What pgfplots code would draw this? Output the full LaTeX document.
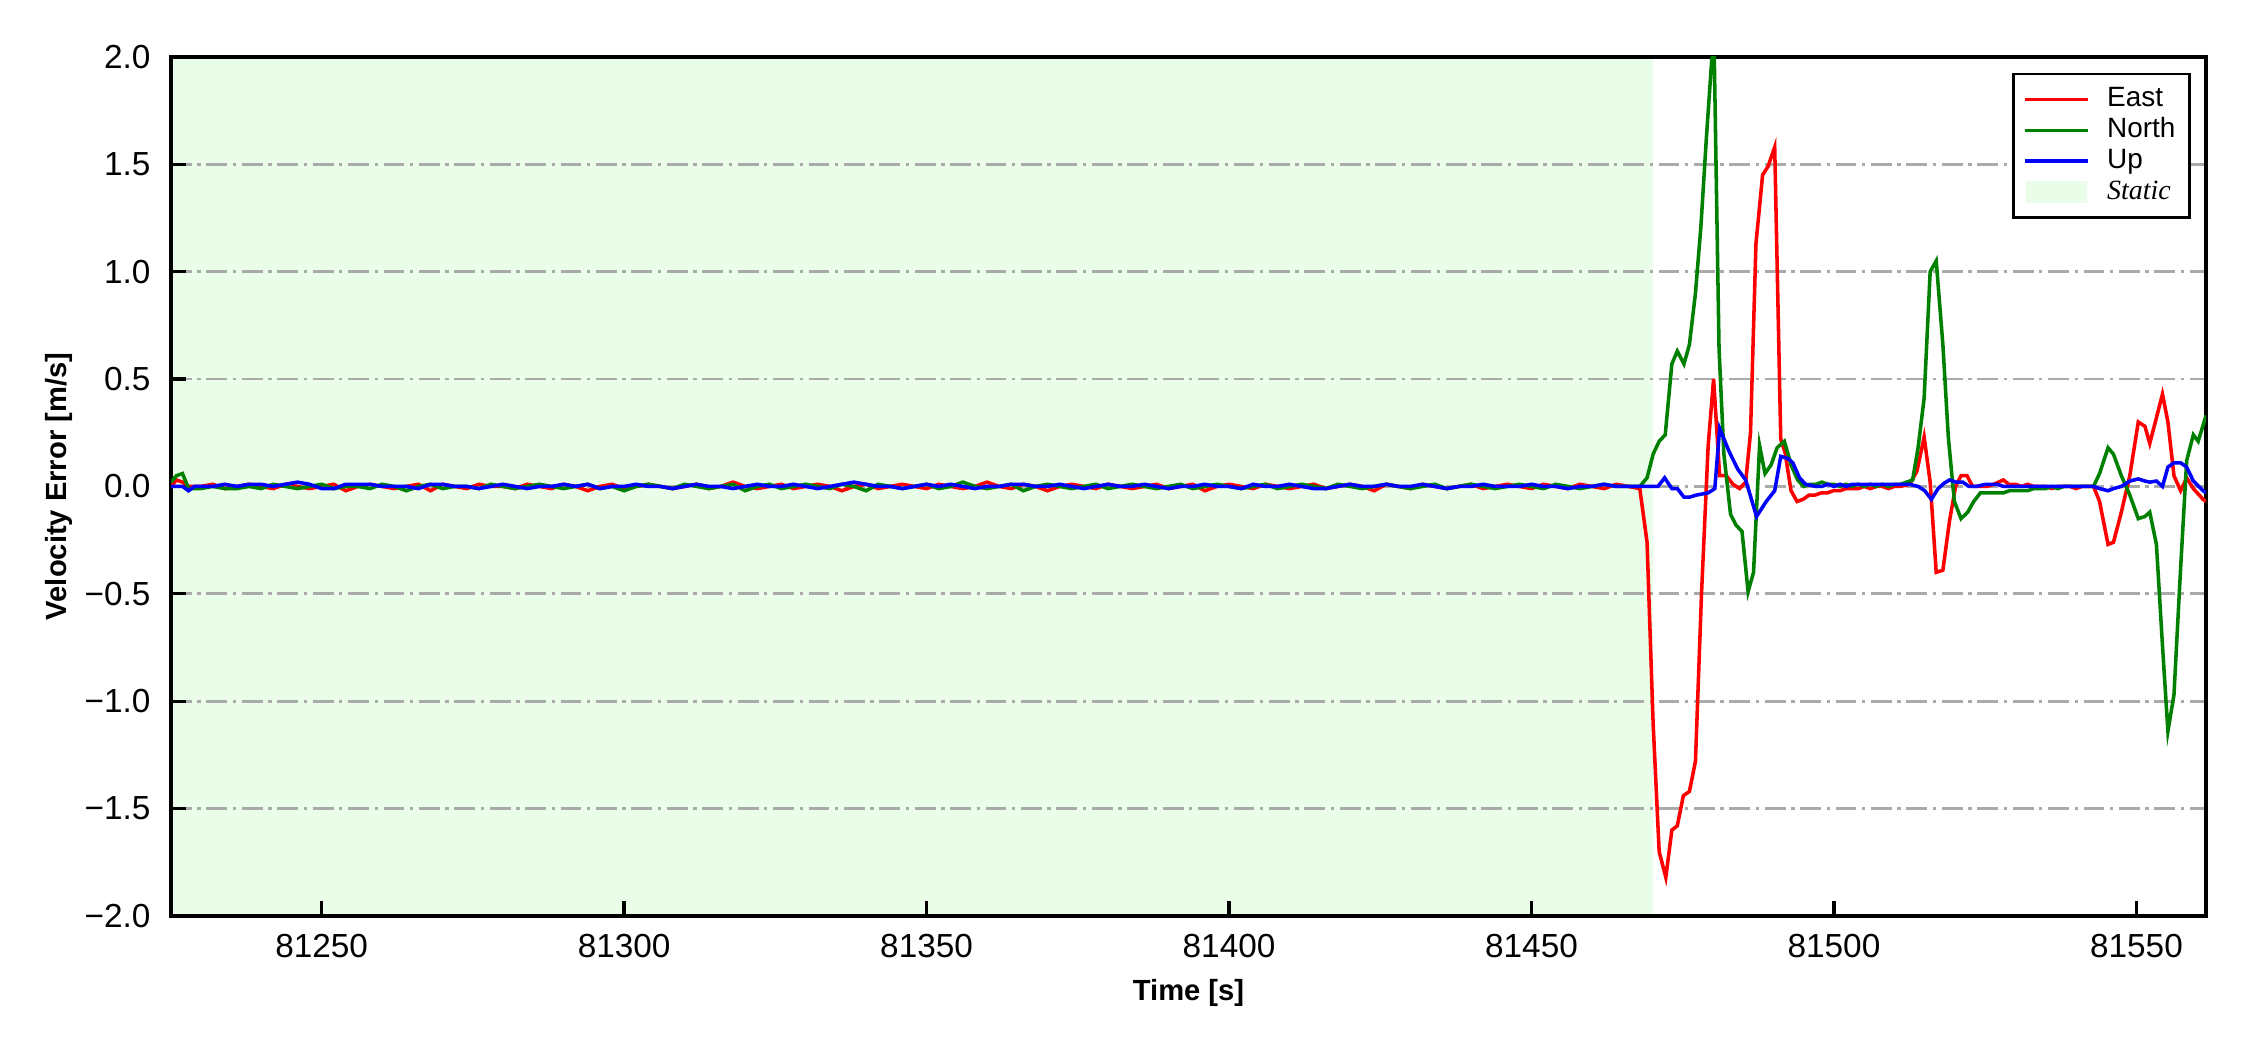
\documentclass[border=0pt]{standalone}
\usepackage{fontspec}
\setmainfont{Liberation Sans}
\newfontfamily\serifit{Liberation Serif}
\usepackage{pgfplots}
\pgfplotsset{compat=1.18}
\usepackage{pgfplotstable}
\definecolor{mplgreen}{RGB}{0,128,0}
\definecolor{mplred}{RGB}{255,0,0}
\definecolor{mplblue}{RGB}{0,0,255}
\definecolor{staticgreen}{RGB}{233,253,233}
\definecolor{gridgray}{RGB}{170,170,170}

\pgfplotstableread[row sep=\\]{t v\\
81225.1 0.00\\ 81226 0.03\\ 81227 0.02\\ 81228 0.00\\
81230 0.00\\ 81232 0.01\\ 81234 -0.01\\ 81236 0.00\\ 81238 0.01\\ 81240 0.00\\ 81242 -0.01\\ 81244 0.01\\ 81246 0.00\\ 81248 -0.01\\
81250 0.00\\ 81252 0.01\\ 81254 -0.02\\ 81256 0.00\\ 81258 0.01\\ 81260 0.00\\ 81262 -0.01\\ 81264 0.00\\ 81266 0.01\\ 81268 -0.02\\
81270 0.01\\ 81272 0.00\\ 81274 -0.01\\ 81276 0.01\\ 81278 0.00\\ 81280 0.00\\ 81282 -0.01\\ 81284 0.01\\ 81286 0.00\\ 81288 -0.01\\
81290 0.01\\ 81292 0.00\\ 81294 -0.02\\ 81296 0.00\\ 81298 0.01\\ 81300 -0.01\\ 81302 0.00\\ 81304 0.01\\ 81306 0.00\\ 81308 -0.01\\
81310 0.00\\ 81312 0.01\\ 81314 -0.01\\ 81316 0.00\\ 81318 0.02\\ 81320 0.00\\ 81322 -0.01\\ 81324 0.00\\ 81326 0.01\\ 81328 -0.01\\
81330 0.00\\ 81332 0.01\\ 81334 0.00\\ 81336 -0.02\\ 81338 0.00\\ 81340 0.01\\ 81342 -0.01\\ 81344 0.00\\ 81346 0.01\\ 81348 0.00\\
81350 -0.01\\ 81352 0.01\\ 81354 0.00\\ 81356 -0.01\\ 81358 0.00\\ 81360 0.02\\ 81362 0.00\\ 81364 -0.01\\ 81366 0.01\\ 81368 0.00\\
81370 -0.02\\ 81372 0.00\\ 81374 0.01\\ 81376 0.00\\ 81378 -0.01\\ 81380 0.01\\ 81382 0.00\\ 81384 -0.01\\ 81386 0.00\\ 81388 0.01\\
81390 -0.01\\ 81392 0.00\\ 81394 0.01\\ 81396 -0.02\\ 81398 0.00\\ 81400 0.01\\ 81402 0.00\\ 81404 -0.01\\ 81406 0.01\\ 81408 0.00\\
81410 -0.01\\ 81412 0.00\\ 81414 0.01\\ 81416 -0.01\\ 81418 0.00\\ 81420 0.01\\ 81422 0.00\\ 81424 -0.02\\ 81426 0.01\\ 81428 0.00\\
81430 -0.01\\ 81432 0.01\\ 81434 0.00\\ 81436 -0.01\\ 81438 0.00\\ 81440 0.01\\ 81442 -0.01\\ 81444 0.00\\ 81446 0.01\\ 81448 0.00\\
81450 -0.01\\ 81452 0.01\\ 81454 0.00\\ 81456 -0.01\\ 81458 0.01\\ 81460 0.00\\ 81462 -0.01\\ 81464 0.01\\ 81466 0.00\\
81467.9 -0.01\\ 81469.1 -0.26\\ 81470.1 -1.10\\ 81471.1 -1.70\\ 81472.2 -1.82\\ 81473.2 -1.60\\ 81474.1 -1.58\\ 81475.1 -1.44\\
81476.1 -1.42\\ 81477.1 -1.28\\ 81478.1 -0.50\\ 81479.2 0.19\\ 81480.1 0.50\\ 81481.1 0.05\\ 81482.2 0.05\\ 81483.3 0.01\\
81484.4 -0.01\\ 81485.4 0.02\\ 81486.2 0.25\\ 81487.1 1.13\\ 81488.2 1.45\\ 81489.1 1.49\\ 81490.2 1.58\\ 81491.2 0.22\\
81491.9 0.16\\ 81492.9 -0.02\\ 81493.9 -0.07\\ 81494.9 -0.06\\ 81495.9 -0.04\\ 81496.9 -0.04\\ 81497.9 -0.03\\ 81498.9 -0.03\\
81499.9 -0.02\\ 81501 -0.02\\ 81502 -0.01\\ 81503 -0.01\\ 81504 -0.01\\ 81505 0.00\\ 81506 -0.01\\ 81507 0.00\\ 81508 0.00\\
81509 -0.01\\ 81510 0.00\\ 81511 0.00\\ 81512.5 0.01\\ 81513.7 0.07\\ 81514.9 0.23\\ 81515.9 0.02\\ 81516.9 -0.40\\ 81518 -0.39\\
81519.1 -0.16\\ 81520.1 0.00\\ 81521 0.05\\ 81522 0.05\\ 81522.9 0.00\\ 81524.2 0.00\\ 81525.3 0.00\\ 81526.4 0.01\\ 81528 0.03\\
81528.9 0.01\\ 81530 0.01\\ 81531 0.00\\ 81532 0.01\\ 81533 0.00\\ 81534 0.00\\ 81535 0.00\\ 81536 -0.01\\ 81537 0.00\\ 81538 0.00\\
81539 0.00\\ 81540 -0.01\\ 81541 0.00\\ 81542 0.00\\ 81542.9 0.00\\ 81543.9 -0.07\\ 81545.3 -0.27\\ 81546.2 -0.26\\ 81547.5 -0.12\\
81548.9 0.05\\ 81550.3 0.30\\ 81551.4 0.28\\ 81552.2 0.20\\ 81553.3 0.32\\ 81554.3 0.43\\ 81555.2 0.30\\ 81556.2 0.05\\
81557.3 -0.02\\ 81558.3 0.04\\ 81559.4 -0.01\\ 81561.0 -0.06\\ 81561.5 -0.07\\
}\eastdata

\pgfplotstableread[row sep=\\]{t v\\
81225.1 0.02\\ 81226 0.05\\ 81227 0.06\\ 81228 -0.01\\
81230 -0.01\\ 81232 0.00\\ 81234 -0.01\\ 81236 -0.01\\ 81238 0.00\\ 81240 -0.01\\ 81242 0.01\\ 81244 0.00\\ 81246 -0.01\\ 81248 0.00\\
81250 0.01\\ 81252 -0.01\\ 81254 0.00\\ 81256 0.00\\ 81258 -0.01\\ 81260 0.01\\ 81262 0.00\\ 81264 -0.02\\ 81266 0.00\\ 81268 0.01\\
81270 -0.01\\ 81272 0.00\\ 81274 0.00\\ 81276 -0.01\\ 81278 0.01\\ 81280 0.00\\ 81282 -0.01\\ 81284 0.00\\ 81286 0.01\\ 81288 0.00\\
81290 -0.01\\ 81292 0.00\\ 81294 0.01\\ 81296 -0.01\\ 81298 0.00\\ 81300 -0.02\\ 81302 0.00\\ 81304 0.01\\ 81306 0.00\\ 81308 -0.01\\
81310 0.01\\ 81312 0.00\\ 81314 -0.01\\ 81316 0.00\\ 81318 0.01\\ 81320 -0.02\\ 81322 0.00\\ 81324 0.01\\ 81326 -0.01\\ 81328 0.00\\
81330 0.01\\ 81332 0.00\\ 81334 -0.01\\ 81336 0.01\\ 81338 0.00\\ 81340 -0.02\\ 81342 0.01\\ 81344 0.00\\ 81346 -0.01\\ 81348 0.00\\
81350 0.01\\ 81352 -0.01\\ 81354 0.00\\ 81356 0.02\\ 81358 0.00\\ 81360 -0.01\\ 81362 0.00\\ 81364 0.01\\ 81366 -0.02\\ 81368 0.00\\
81370 0.01\\ 81372 0.00\\ 81374 -0.01\\ 81376 0.00\\ 81378 0.01\\ 81380 -0.01\\ 81382 0.00\\ 81384 0.01\\ 81386 0.00\\ 81388 -0.01\\
81390 0.00\\ 81392 0.01\\ 81394 -0.01\\ 81396 0.00\\ 81398 0.01\\ 81400 0.00\\ 81402 -0.01\\ 81404 0.00\\ 81406 0.01\\ 81408 -0.01\\
81410 0.00\\ 81412 0.01\\ 81414 0.00\\ 81416 -0.01\\ 81418 0.01\\ 81420 0.00\\ 81422 -0.01\\ 81424 0.00\\ 81426 0.01\\ 81428 0.00\\
81430 -0.01\\ 81432 0.00\\ 81434 0.01\\ 81436 -0.01\\ 81438 0.00\\ 81440 0.01\\ 81442 0.00\\ 81444 -0.01\\ 81446 0.00\\ 81448 0.01\\
81450 0.00\\ 81452 -0.01\\ 81454 0.01\\ 81456 0.00\\ 81458 -0.01\\ 81460 0.00\\ 81462 0.01\\ 81464 0.00\\ 81466 0.00\\
81467.9 0.00\\ 81469.1 0.04\\ 81470.1 0.15\\ 81471.1 0.21\\ 81472.1 0.24\\ 81473.2 0.57\\ 81474.1 0.63\\ 81475.2 0.57\\
81476.1 0.66\\ 81477.1 0.90\\ 81478.0 1.21\\ 81478.9 1.62\\ 81479.8 1.99\\ 81480.2 2.02\\ 81481.0 0.64\\ 81481.8 0.15\\
81482.9 -0.13\\ 81483.8 -0.18\\ 81484.8 -0.21\\ 81485.8 -0.49\\ 81486.7 -0.40\\ 81487.7 0.19\\ 81488.6 0.06\\ 81489.6 0.10\\
81490.6 0.18\\ 81491.8 0.21\\ 81492.9 0.10\\ 81494 0.03\\ 81495 0.00\\ 81496 0.01\\ 81497 0.01\\ 81498 0.02\\ 81499 0.01\\
81500 0.01\\ 81501 0.00\\ 81502 0.01\\ 81503 0.00\\ 81504 0.01\\ 81505 0.00\\ 81506 0.01\\ 81507 0.00\\ 81508 0.01\\ 81509 0.00\\
81510 0.01\\ 81511 0.01\\ 81512 0.02\\ 81513 0.03\\ 81513.9 0.18\\ 81514.9 0.41\\ 81515.9 1.00\\ 81516.9 1.05\\ 81518 0.66\\
81518.9 0.23\\ 81519.9 -0.07\\ 81521 -0.15\\ 81522.1 -0.12\\ 81523.1 -0.07\\ 81524.2 -0.03\\ 81525.3 -0.03\\ 81526.4 -0.03\\
81528 -0.03\\ 81529 -0.02\\ 81530 -0.02\\ 81531 -0.02\\ 81532 -0.02\\ 81533 -0.01\\ 81534 -0.01\\ 81535 -0.01\\ 81536 0.00\\
81537 -0.01\\ 81538 0.00\\ 81539 0.00\\ 81540 0.00\\ 81541 0.00\\ 81542.9 0.00\\ 81543.9 0.06\\ 81545.3 0.18\\ 81546.2 0.15\\
81547.5 0.05\\ 81548.9 -0.04\\ 81550.3 -0.15\\ 81551.4 -0.14\\ 81552.2 -0.12\\ 81553.3 -0.27\\ 81554.3 -0.74\\ 81555.2 -1.14\\
81556.2 -0.97\\ 81557.3 -0.38\\ 81558.3 0.12\\ 81559.4 0.24\\ 81560.2 0.21\\ 81561.5 0.33\\
}\northdata

\pgfplotstableread[row sep=\\]{t v\\
81225.1 0.00\\ 81227 0.00\\ 81228 -0.02\\ 81229 0.00\\
81230 0.00\\ 81232 0.00\\ 81234 0.01\\ 81236 0.00\\ 81238 0.01\\ 81240 0.01\\ 81242 0.00\\ 81244 0.01\\ 81246 0.02\\ 81248 0.01\\
81250 -0.01\\ 81252 -0.01\\ 81254 0.01\\ 81256 0.01\\ 81258 0.01\\ 81260 0.00\\ 81262 0.00\\ 81264 0.00\\ 81266 -0.01\\ 81268 0.01\\
81270 0.01\\ 81272 0.00\\ 81274 0.00\\ 81276 -0.01\\ 81278 0.00\\ 81280 0.01\\ 81282 0.00\\ 81284 -0.01\\ 81286 0.00\\ 81288 0.00\\
81290 0.01\\ 81292 0.00\\ 81294 0.01\\ 81296 -0.01\\ 81298 0.00\\ 81300 0.00\\ 81302 0.01\\ 81304 0.00\\ 81306 0.00\\ 81308 -0.01\\
81310 0.00\\ 81312 0.01\\ 81314 0.00\\ 81316 0.00\\ 81318 -0.01\\ 81320 0.00\\ 81322 0.01\\ 81324 0.00\\ 81326 0.00\\ 81328 0.01\\
81330 0.00\\ 81332 -0.01\\ 81334 0.00\\ 81336 0.01\\ 81338 0.02\\ 81340 0.01\\ 81342 0.00\\ 81344 0.00\\ 81346 -0.01\\ 81348 0.00\\
81350 0.01\\ 81352 0.00\\ 81354 0.01\\ 81356 0.00\\ 81358 -0.01\\ 81360 0.00\\ 81362 0.00\\ 81364 0.01\\ 81366 0.01\\ 81368 0.00\\
81370 0.00\\ 81372 0.01\\ 81374 0.00\\ 81376 -0.01\\ 81378 0.00\\ 81380 0.01\\ 81382 0.00\\ 81384 0.00\\ 81386 0.01\\ 81388 0.00\\
81390 -0.01\\ 81392 0.00\\ 81394 0.00\\ 81396 0.01\\ 81398 0.00\\ 81400 0.00\\ 81402 -0.01\\ 81404 0.01\\ 81406 0.00\\ 81408 0.00\\
81410 0.01\\ 81412 0.00\\ 81414 -0.01\\ 81416 -0.01\\ 81418 0.00\\ 81420 0.01\\ 81422 0.00\\ 81424 0.00\\ 81426 0.01\\ 81428 0.00\\
81430 0.00\\ 81432 0.01\\ 81434 0.00\\ 81436 -0.01\\ 81438 0.00\\ 81440 0.00\\ 81442 0.01\\ 81444 0.00\\ 81446 0.00\\ 81448 0.00\\
81450 0.01\\ 81452 0.00\\ 81454 0.00\\ 81456 -0.01\\ 81458 0.00\\ 81460 0.00\\ 81462 0.01\\ 81464 0.00\\ 81466 0.00\\
81467.9 0.00\\ 81470.9 0.00\\ 81472.0 0.04\\ 81473.2 -0.01\\ 81474.1 -0.01\\ 81475.2 -0.05\\ 81476.1 -0.05\\ 81477.3 -0.04\\
81479.2 -0.03\\ 81480.3 -0.01\\ 81481.1 0.27\\ 81482.7 0.16\\ 81484.1 0.08\\ 81485.4 0.03\\ 81487.2 -0.14\\ 81488.8 -0.07\\
81490.2 -0.02\\ 81491.2 0.14\\ 81492.4 0.13\\ 81493.2 0.11\\ 81494.3 0.04\\ 81495.3 0.01\\ 81497 0.00\\ 81498 0.00\\ 81499 0.01\\
81500 0.00\\ 81501 0.01\\ 81502 0.00\\ 81503 0.01\\ 81505 0.01\\ 81507 0.01\\ 81509 0.01\\ 81511 0.01\\ 81512.5 0.01\\
81513.9 0.00\\ 81515 -0.02\\ 81516.1 -0.06\\ 81517.2 -0.01\\ 81518.2 0.015\\ 81519.1 0.03\\ 81520.2 0.02\\ 81521.3 0.02\\
81522.3 0.00\\ 81523.5 0.00\\ 81525.1 0.01\\ 81527 0.01\\ 81528 0.00\\ 81530 0.00\\ 81532 0.00\\ 81534 0.00\\ 81536 0.00\\
81538 0.00\\ 81540 0.00\\ 81542.9 0.00\\ 81543.9 -0.01\\ 81545.3 -0.02\\ 81546.2 -0.01\\ 81547.5 0.00\\ 81548.9 0.025\\
81550.3 0.035\\ 81551.4 0.025\\ 81552.2 0.02\\ 81553.3 0.025\\ 81554.3 0.00\\ 81555.2 0.09\\ 81556.2 0.11\\ 81557.3 0.11\\
81558.3 0.09\\ 81559.4 0.025\\ 81561.0 -0.02\\ 81561.5 -0.03\\
}\updata

\pgfplotstableread[row sep=\\]{t v\\
81225.1 -2\\ 81470 -2\\ 81470 2\\ 81225.1 2\\
}\staticdata

\begin{document}
\begin{tikzpicture}
\begin{axis}[
  at={(0pt,0pt)}, anchor=south west,
  scale only axis,
  width=488.4pt, height=206.2pt,
  set layers=standard,
  xmin=81225.1, xmax=81561.5,
  ymin=-2, ymax=2,
  scaled x ticks=false, scaled y ticks=false,
  xtick={81250,81300,81350,81400,81450,81500,81550},
  xticklabels={81250,81300,81350,81400,81450,81500,81550},
  ytick={-2,-1.5,-1,-0.5,0,0.5,1,1.5,2},
  yticklabels={−2.0,−1.5,−1.0,−0.5,0.0,0.5,1.0,1.5,2.0},
  tick align=inside,
  xtick pos=bottom, ytick pos=left,
  major tick length=3.5pt,
  every tick/.style={black, line width=0.8pt},
  axis line style={line width=0.8pt, black},
  tick label style={font=\fontsize{8}{9.6}\selectfont},
  yticklabel style={xshift=-1.4pt},
  xticklabel style={yshift=-0.9pt},
  ymajorgrids,
  major grid style={gridgray, line width=0.65pt, dash pattern=on 5pt off 1.35pt on 0.8pt off 1.35pt},
  xlabel={Time [s]},
  ylabel={Velocity Error [m/s]},
  label style={font=\fontsize{7}{8.4}\selectfont\bfseries},
  xlabel style={at={(axis description cs:0.5,0)}, anchor=base, yshift=-20.2pt},
  ylabel style={at={(axis description cs:-0.0512,0.5)}, anchor=base},
  legend image code/.code={\draw[#1] (0pt,0pt) -- (15pt,0pt); \path (18.3pt,0pt);},
  legend cell align=left,
  legend style={at={(rel axis cs:1,1)}, anchor=north east, xshift=-3.6pt, yshift=-3.8pt,
    draw=black, line width=0.65pt, fill=white, inner xsep=2.4pt, inner ysep=2.4pt,
    font=\fontsize{6.7}{7.4}\selectfont,
    nodes={inner xsep=1pt, inner ysep=0.6pt, text height=4.9pt, text depth=1.3pt}},
]
\addplot[draw=none, fill=staticgreen, forget plot, on layer=axis background] table[x=t, y=v] {\staticdata};
\addplot[mplred, line width=0.85pt] table[x=t, y=v] {\eastdata};
\addlegendentry{East}
\addplot[mplgreen, line width=0.85pt] table[x=t, y=v] {\northdata};
\addlegendentry{North}
\addplot[mplblue, line width=0.85pt] table[x=t, y=v] {\updata};
\addlegendentry{Up}
\addlegendimage{legend image code/.code={\fill[staticgreen] (0.5pt,-2.4pt) rectangle (14.5pt,2.4pt); \path (18.3pt,0pt);}}
\addlegendentry{{\serifit\itshape Static}}
\end{axis}
\path (-41.04pt,-32.16pt) (498.96pt,219.84pt);
\end{tikzpicture}
\end{document}
